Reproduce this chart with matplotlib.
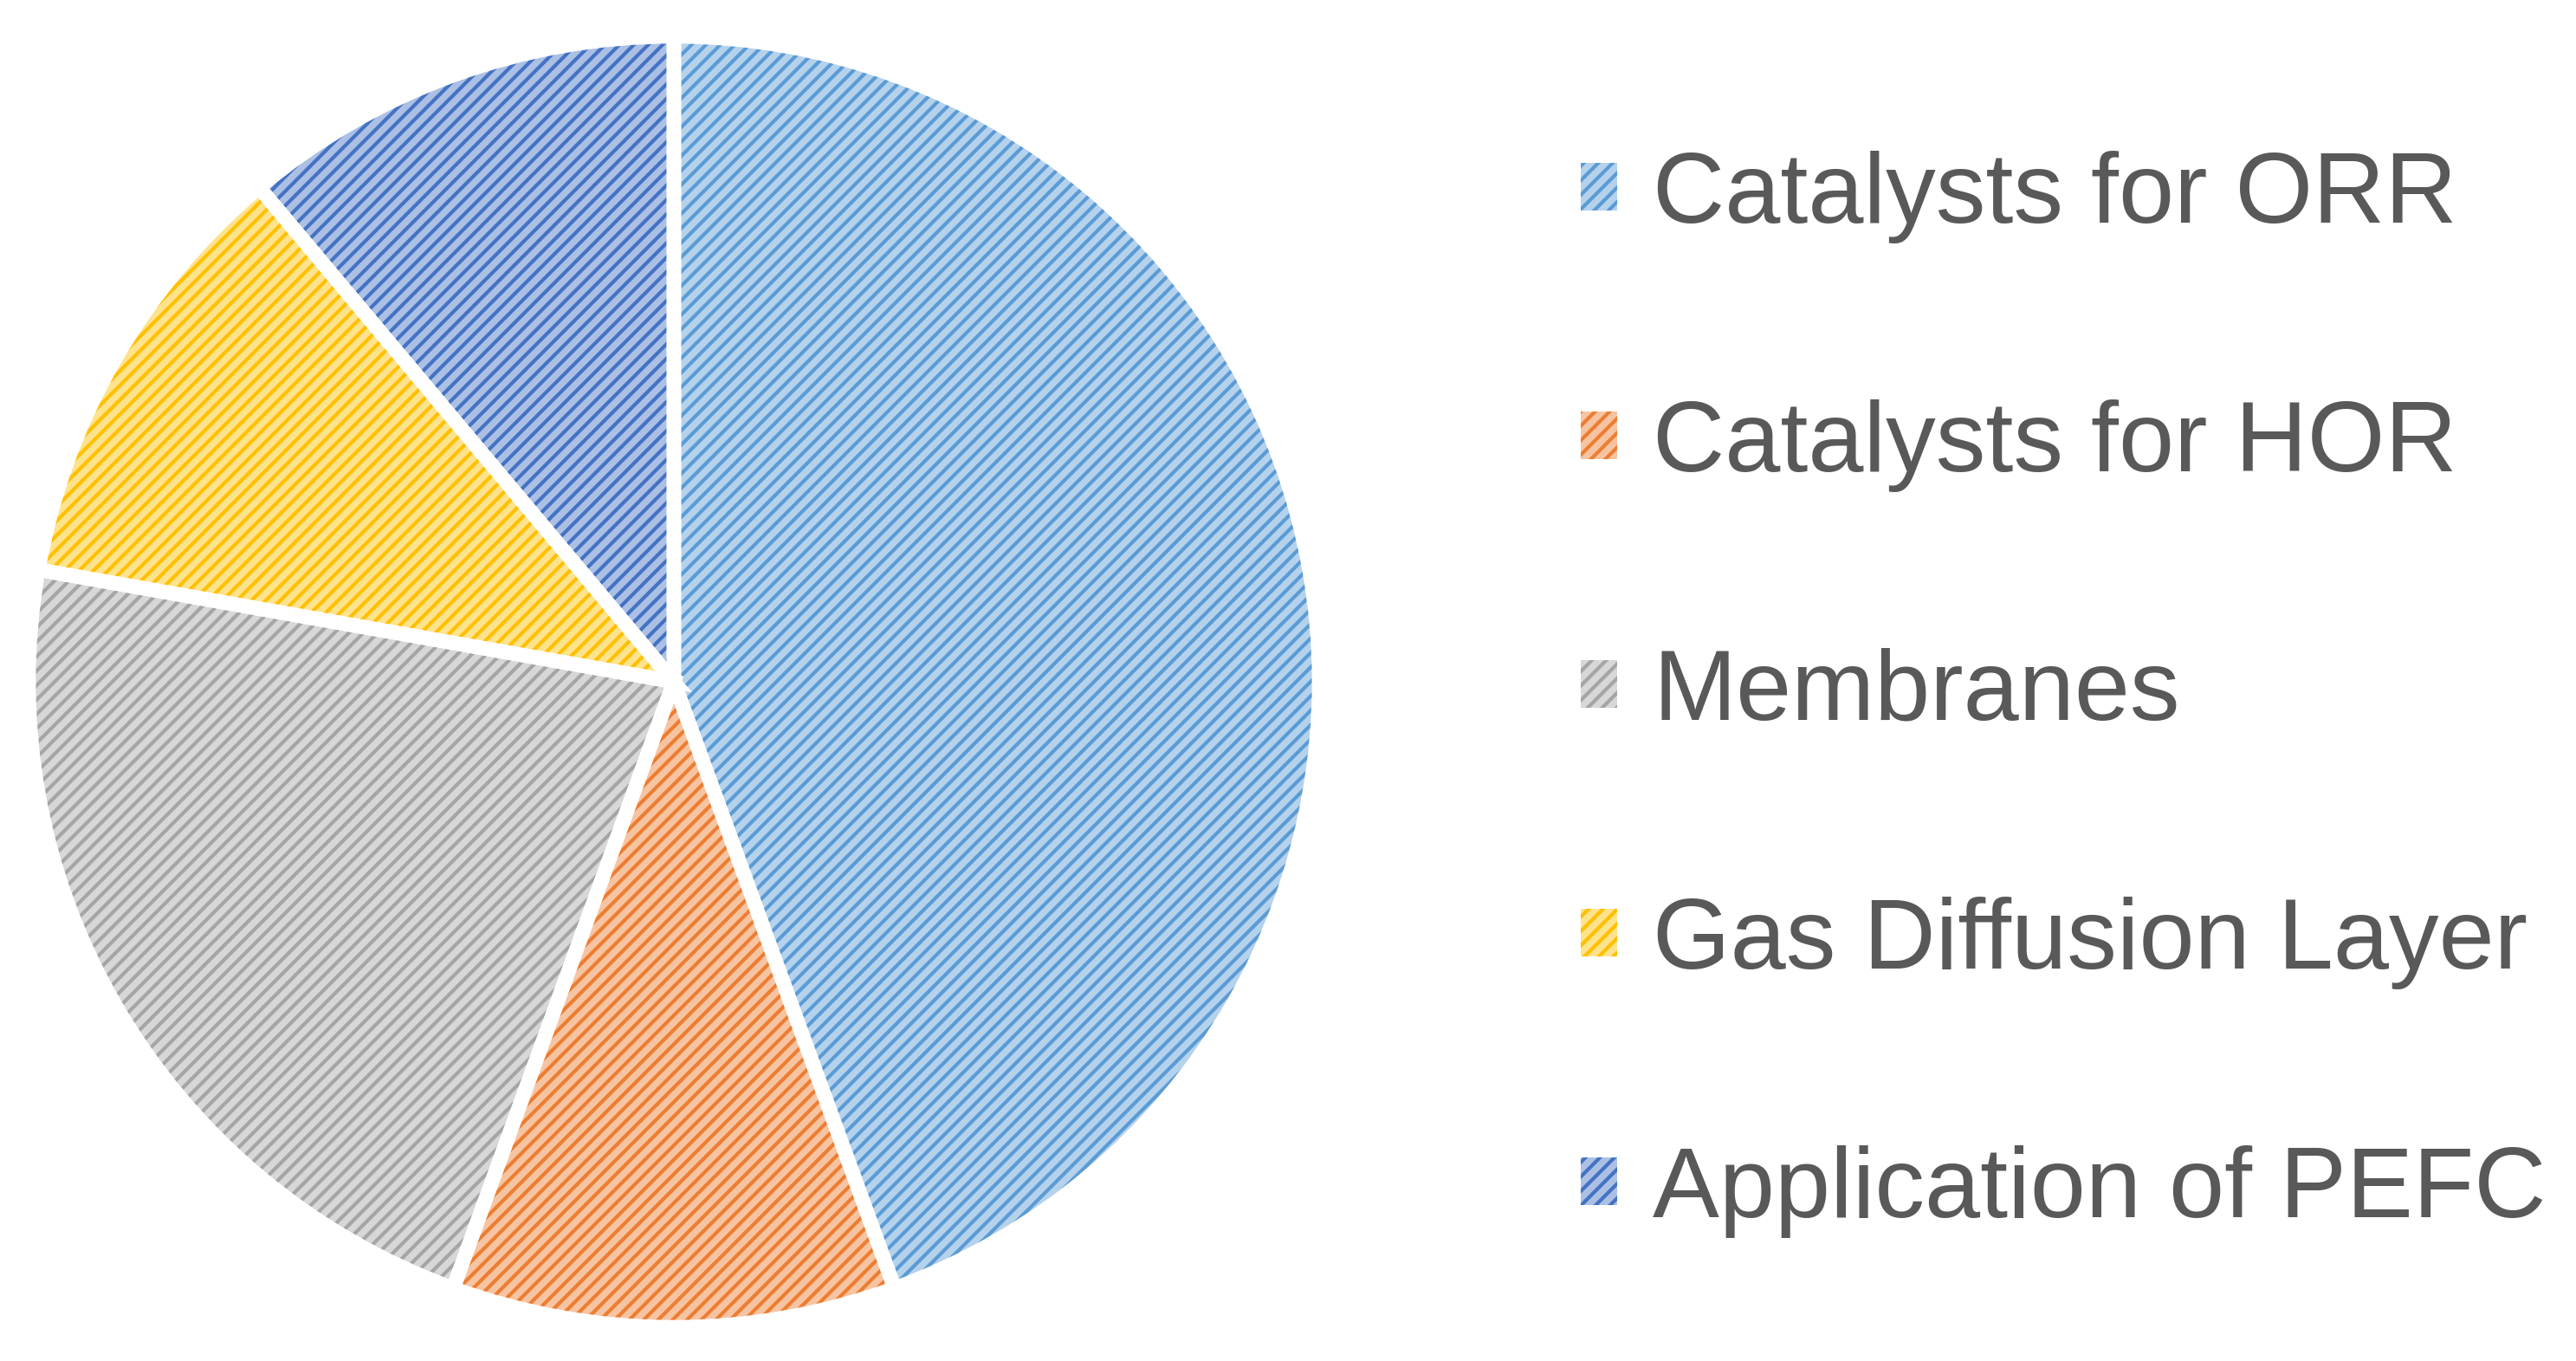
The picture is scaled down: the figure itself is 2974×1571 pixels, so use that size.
import matplotlib.pyplot as plt
from matplotlib.colors import to_rgb

topics = ["Catalysts for ORR", "Catalysts for HOR", "Membranes",
          "Gas Diffusion Layer", "Application of PEFC"]
counts = [4, 1, 2, 1, 1]
base_colors = ["#5B9BD5", "#ED7D31", "#A5A5A5", "#FFC000", "#4472C4"]

def lighten(c, amt=0.55):
    r, g, b = to_rgb(c)
    return (r + (1 - r) * amt, g + (1 - g) * amt, b + (1 - b) * amt)

plt.rcParams['font.family'] = ['Liberation Sans', 'DejaVu Sans']
plt.rcParams['hatch.linewidth'] = 3.0

fig = plt.figure(figsize=(29.74, 15.71), dpi=100)
ax = fig.add_axes([778/2974 - 745/2974, 1 - (787 + 745)/1571, 1490/2974, 1490/1571])

# hatched wedges, hatch colour comes from the edge colour
wedges, _ = ax.pie(counts, startangle=90, counterclock=False,
                   colors=[lighten(c) for c in base_colors])
for w, c in zip(wedges, base_colors):
    w.set_edgecolor(c)
    w.set_linewidth(0)
    w.set_hatch('//')

# white gaps between slices
ax.pie(counts, startangle=90, counterclock=False, colors=['none'] * len(counts),
       wedgeprops=dict(edgecolor='white', linewidth=12))
ax.set_xlim(-1, 1)
ax.set_ylim(-1, 1)
ax.set_aspect('equal')

fig.legend(wedges, topics, loc='center left', bbox_to_anchor=(1825/2974, 0.4899),
           frameon=False, fontsize=83, labelcolor='#595959',
           handlelength=0.36, handleheight=0.36, handletextpad=0.36,
           labelspacing=1.56, borderpad=0, borderaxespad=0)

fig.savefig("out.png", dpi=100)
